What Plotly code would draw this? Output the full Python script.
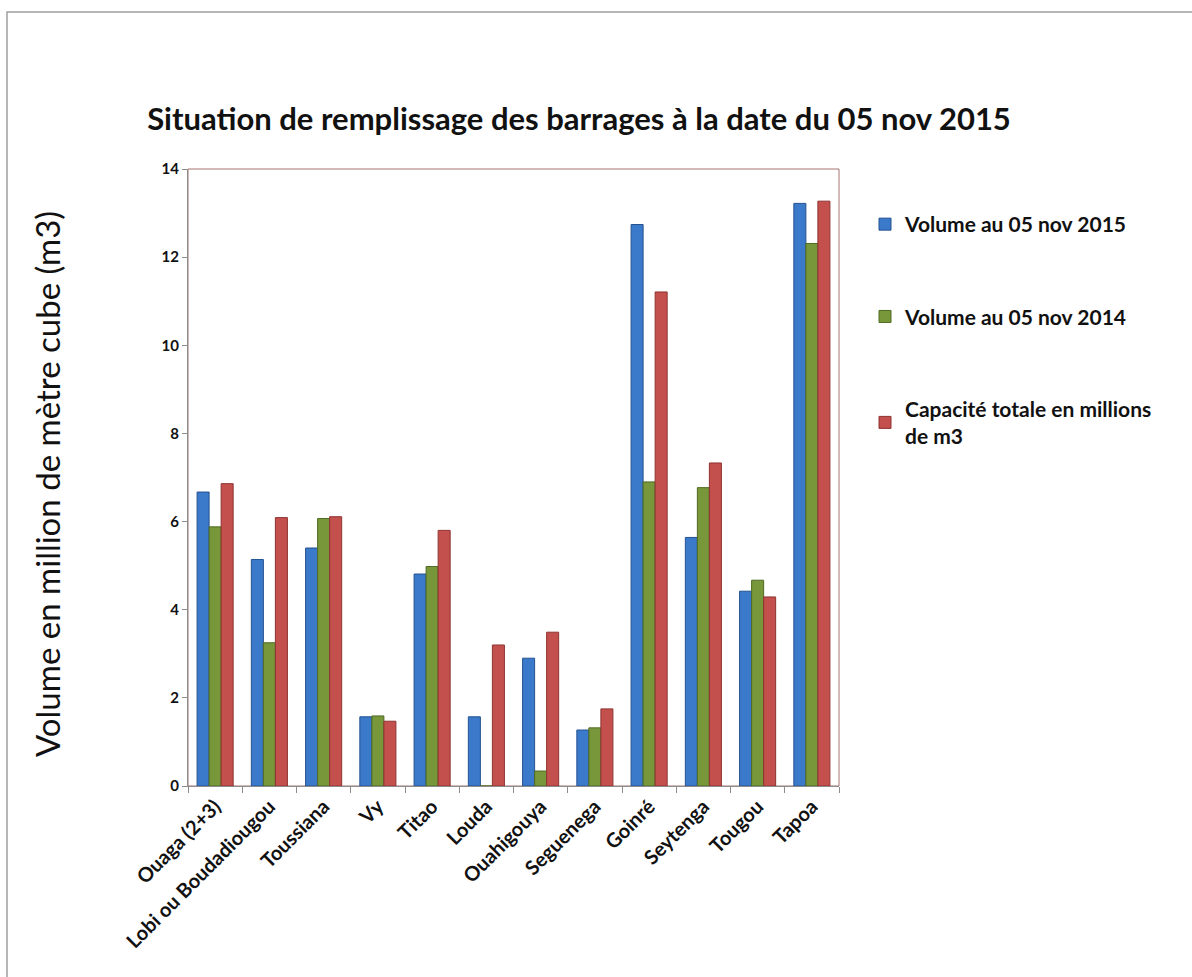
import plotly.graph_objects as go

# Reservoir names (x categories)
barrages = [
    "Ouaga (2+3)", "Lobi ou Boudadiougou", "Toussiana", "Vy", "Titao", "Louda",
    "Ouahigouya", "Seguenega", "Goinré", "Seytenga", "Tougou", "Tapoa",
]

# Stored volumes, millions of m3
volume_2015 = [6.67, 5.14, 5.40, 1.57, 4.81, 1.57, 2.90, 1.27, 12.74, 5.64, 4.42, 13.22]
volume_2014 = [5.88, 3.25, 6.07, 1.59, 4.98, 0.00, 0.34, 1.32, 6.90, 6.77, 4.67, 12.31]
capacite = [6.86, 6.09, 6.11, 1.47, 5.80, 3.20, 3.49, 1.75, 11.21, 7.33, 4.29, 13.27]

series_names = [
    "Volume au 05 nov 2015",
    "Volume au 05 nov 2014",
    "Capacité totale en millions<br>de m3",
]

y_ticks = [0, 2, 4, 6, 8, 10, 12, 14]

FONT = "Lato"
W, H = 1192, 977
L, R, T, B = 188, 353, 169, 191
PW, PH = W - L - R, H - T - B


def px_x(p):
    return (p - L) / PW


def px_y(p):
    return (H - B - p) / PH


fills = ["#3b79ca", "#77973a", "#c3504c"]
edges = ["#24528f", "#4f6a22", "#8e3331"]

fig = go.Figure()
for i, (name, vals) in enumerate(zip(series_names, [volume_2015, volume_2014, capacite])):
    fig.add_trace(go.Bar(
        x=barrages, y=vals, name=name,
        marker=dict(color=fills[i], line=dict(color=edges[i], width=1)),
        legendgroup=f"g{i}",
    ))

fig.update_layout(
    width=W, height=H,
    margin=dict(l=L, r=R, t=T, b=B),
    paper_bgcolor="white", plot_bgcolor="white",
    barmode="group", bargap=0.335, bargroupgap=0,
    font=dict(family=FONT, color="#111"),
    title=dict(
        text="<b>Situation de remplissage des barrages à la date du 05 nov 2015</b>",
        font=dict(family=FONT, size=31, color="#111"),
        x=579 / W, xanchor="center", xref="container",
        y=1 - 119 / H, yanchor="middle", yref="container",
    ),
    legend=dict(
        x=px_x(865), xanchor="left", y=px_y(204), yanchor="top",
        font=dict(family=FONT, size=21, color="#111", weight="bold"),
        tracegroupgap=62, bgcolor="rgba(0,0,0,0)",
    ),
    showlegend=True,
)

fig.update_xaxes(
    type="category", tickson="boundaries", ticks="outside", ticklen=6,
    tickcolor="#8c8c8c", showline=True, linecolor="#8c8c8c", linewidth=1,
    tickangle=-45, tickfont=dict(family=FONT, size=20, color="#111", weight="bold"),
    showgrid=False,
)
fig.update_yaxes(
    range=[0, 14], tickvals=y_ticks, ticks="outside", ticklen=5,
    tickcolor="#8c8c8c", showline=True, linecolor="#8c8c8c", linewidth=1,
    tickfont=dict(family=FONT, size=15, color="#111", weight="bold"),
    showgrid=False, zeroline=False,
)

# Plot area frame (top and right edges) and outer chart border
fig.add_shape(type="rect", xref="paper", yref="paper", x0=0, x1=1, y0=0, y1=1,
              line=dict(color="#a87272", width=1), layer="below")
fig.add_shape(type="rect", xref="paper", yref="paper",
              x0=px_x(7), x1=px_x(1210), y0=px_y(1000), y1=px_y(12),
              line=dict(color="#a0a0a0", width=1.5), layer="below")

# Vertical axis title
fig.add_annotation(
    text="Volume en million de mètre cube (m3)", textangle=-90,
    xref="paper", yref="paper", x=px_x(47), y=px_y(484),
    xanchor="center", yanchor="middle",
    showarrow=False, font=dict(family=FONT, size=33, color="#111"),
)

fig.write_html("out.html")
